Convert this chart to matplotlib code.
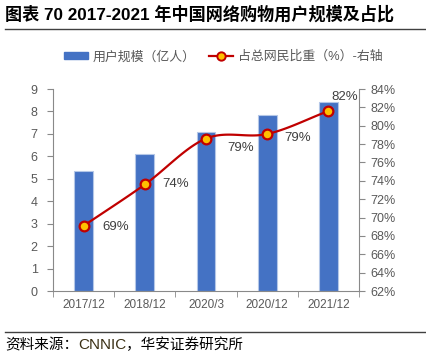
import numpy as np
import matplotlib
matplotlib.use("Agg")
import matplotlib.pyplot as plt
from matplotlib.lines import Line2D
from matplotlib.patches import Patch

plt.rcParams['font.family'] = ['Liberation Sans', 'Noto Sans CJK SC', 'DejaVu Sans']

categories = ["2017/12", "2018/12", "2020/3", "2020/12", "2021/12"]
users = [5.33, 6.10, 7.10, 7.82, 8.42]
share = [69.1, 73.6, 78.6, 79.1, 81.6]
share_labels = ["69%", "74%", "79%", "79%", "82%"]
left_ticks = list(range(0, 10))
right_ticks = list(range(62, 86, 2))

title = "图表 70 2017-2021 年中国网络购物用户规模及占比"
legend_bar = "用户规模（亿人）"
legend_line = "占总网民比重（%）-右轴"

W, H = 427, 353
fig = plt.figure(figsize=(W / 100, H / 100), dpi=100)
ax = fig.add_axes([53 / W, 1 - 291 / H, (359 - 53) / W, (291 - 89) / H])
ax2 = ax.twinx()

x = np.arange(len(categories))
ax.bar(x, users, width=0.31, color='#4472C4', edgecolor='#B4C7E7', linewidth=0.8, zorder=2)
ax.set_xlim(-0.5, len(categories) - 0.5)
ax.set_ylim(0, 9)
ax.set_yticks(left_ticks)

# smooth line rendering through the data points (Bezier/Catmull-Rom)
xs = np.asarray(x, dtype=float)
ys = np.asarray(share, dtype=float)
px = np.concatenate([[2 * xs[0] - xs[1]], xs, [2 * xs[-1] - xs[-2]]])
py = np.concatenate([[2 * ys[0] - ys[1]], ys, [2 * ys[-1] - ys[-2]]])
cx, cy = [], []
t = np.linspace(0, 1, 30)
for i in range(1, len(px) - 2):
    p0, p1, p2, p3 = (np.array([px[j], py[j]]) for j in (i - 1, i, i + 1, i + 2))
    b1 = p1 + (p2 - p0) / 6
    b2 = p2 - (p3 - p1) / 6
    seg = ((1 - t) ** 3)[:, None] * p1 + (3 * (1 - t) ** 2 * t)[:, None] * b1 \
        + (3 * (1 - t) * t ** 2)[:, None] * b2 + (t ** 3)[:, None] * p2
    cx.extend(seg[:, 0]); cy.extend(seg[:, 1])
ax2.plot(cx, cy, color='#C00000', linewidth=1.6, zorder=3)
ax2.plot(xs, ys, linestyle='none', marker='o', markersize=7, markerfacecolor='#FFC000',
         markeredgecolor='#C00000', markeredgewidth=1.6, zorder=4)
ax2.set_ylim(62, 84)
ax2.set_yticks(right_ticks)
ax2.set_yticklabels([f"{v}%" for v in right_ticks])

offsets = [(23, -1), (22, 0), (25, -7), (22, -3), (12, 10)]
for xi, yi, lab, off in zip(xs, ys, share_labels, offsets):
    ax2.annotate(lab, (xi, yi), xytext=off, textcoords='offset points', ha='center', va='center',
                 fontsize=9.5, color='#404040', zorder=5)

axis_col = '#898989'
tick_col = '#595959'
for a in (ax, ax2):
    a.spines['top'].set_visible(False)
    for s in ('left', 'right', 'bottom'):
        a.spines[s].set_color(axis_col)
        a.spines[s].set_linewidth(0.8)
ax.spines['right'].set_visible(False)
ax2.spines['left'].set_visible(False)
ax2.spines['bottom'].set_visible(False)

ax.set_xticks(x)
ax.set_xticklabels(categories)
ax.set_xticks(np.arange(-0.5, len(categories), 1), minor=True)
ax.tick_params(axis='x', which='major', length=0, pad=6, labelsize=8.5, labelcolor=tick_col)
ax.tick_params(axis='x', which='minor', length=4, color=axis_col, direction='out')
ax.tick_params(axis='y', length=4, color=axis_col, labelsize=9, labelcolor=tick_col, pad=7)
ax2.tick_params(axis='y', length=4, color=axis_col, labelsize=9, labelcolor=tick_col, pad=4)

# legend
handles = [Patch(facecolor='#4472C4', edgecolor='#4472C4'),
           Line2D([0], [0], color='#C00000', linewidth=1.6, marker='o', markersize=6,
                  markerfacecolor='#FFC000', markeredgecolor='#C00000', markeredgewidth=1.4)]
fig.legend(handles, [legend_bar, legend_line], loc='center left', bbox_to_anchor=(52 / W, 1 - 57 / H),
           ncol=2, frameon=False, fontsize=9.3, handlelength=1.9, handleheight=0.42,
           columnspacing=1.0, handletextpad=0.35, labelcolor='#595959')

# title and rules
fig.text(5 / W, 1 - 14 / H, title, fontsize=12.3, fontweight='bold', ha='left', va='center',
         family=['Liberation Sans', 'Noto Sans CJK SC', 'DejaVu Sans'])
fig.add_artist(Line2D([5 / W, 1.0], [1 - 29 / H, 1 - 29 / H], color='#404040', linewidth=1.0))
fig.add_artist(Line2D([5 / W, 1.0], [1 - 332 / H, 1 - 332 / H], color='#404040', linewidth=1.0))

src_y = 1 - 345 / H
t1 = fig.text(5 / W, src_y, "资料来源：", fontsize=10.5, ha='left', va='center',
              family=['Noto Sans CJK SC', 'DejaVu Sans'])
fig.canvas.draw()
r = fig.canvas.get_renderer()
bb = t1.get_window_extent(r)
t2 = fig.text(bb.x1 / W, src_y, "CNNIC", fontsize=11, ha='left', va='center', color='#3B3015',
              family=['Liberation Sans'])
bb2 = t2.get_window_extent(r)
fig.text(bb2.x1 / W, src_y, "，华安证券研究所", fontsize=10.5, ha='left', va='center',
         family=['Noto Sans CJK SC', 'DejaVu Sans'])

fig.savefig("out.png", dpi=100)
